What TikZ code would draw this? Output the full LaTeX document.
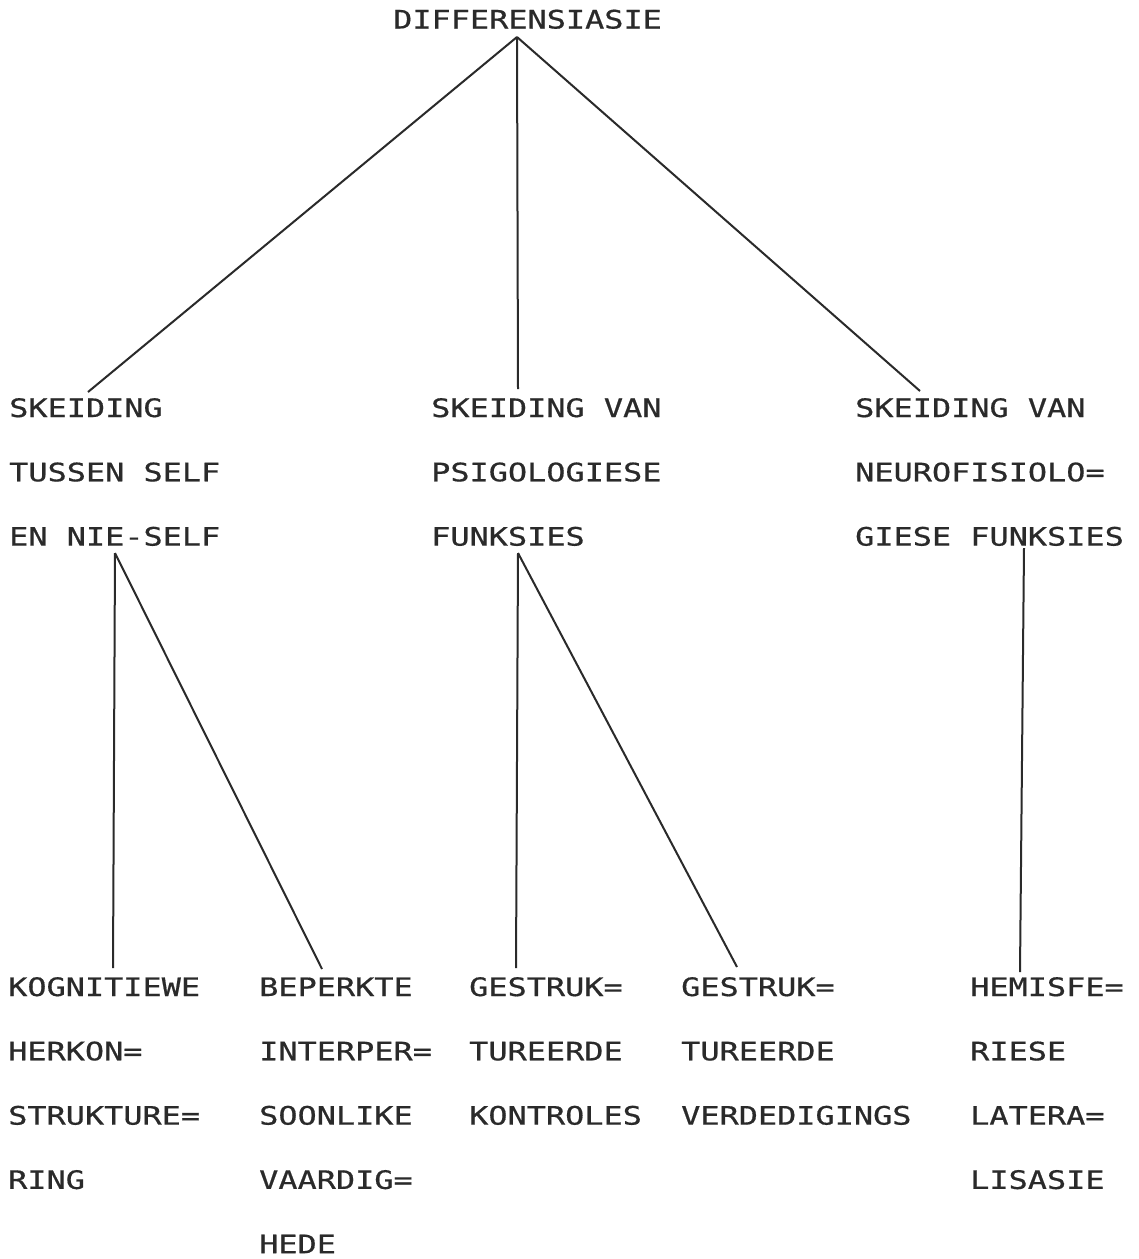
\documentclass[tikz,border=0pt]{standalone}
\usepackage{fontspec}
% wide monospaced plotter-style lettering
\newfontfamily\plotfont[FakeStretch=1.255,FakeBold=0.6]{DejaVu Sans Mono}
\definecolor{ink}{HTML}{2A2A2A}
\begin{document}
\begin{tikzpicture}[x=1pt,y=-1pt,
  lbl/.style={anchor=base west, inner sep=0pt,
    font=\plotfont\fontsize{25.4}{25.4}\selectfont, text=ink},
  link/.style={draw=ink, line width=2pt, line join=round}]
\fill[white] (0,0) rectangle (1139,1259);
\useasboundingbox (0,0) rectangle (1139,1259);

% a text block: one node per line, lines 64.3pt apart
\newcommand\textblock[4]{%
  \foreach \txt [count=\i] in {#4}
    \node[lbl] (#1-\i) at (#2,{#3+64.3*(\i-1)}) {\txt};}

\textblock{root}{393}{28.5}{DIFFERENSIASIE}

\textblock{a}{9}{417}{SKEIDING,TUSSEN SELF,EN NIE-SELF}
\textblock{b}{431}{417}{SKEIDING VAN,PSIGOLOGIESE,FUNKSIES}
\textblock{c}{855}{417}{SKEIDING VAN,NEUROFISIOLO=,GIESE FUNKSIES}

\textblock{d}{8}{996}{KOGNITIEWE,HERKON=,STRUKTURE=,RING}
\textblock{e}{259}{996}{BEPERKTE,INTERPER=,SOONLIKE,VAARDIG=,HEDE}
\textblock{f}{469}{996}{GESTRUK=,TUREERDE,KONTROLES}
\textblock{g}{681}{996}{GESTRUK=,TUREERDE,VERDEDIGINGS}
\textblock{h}{970}{996}{HEMISFE=,RIESE,LATERA=,LISASIE}

% connector ends
\coordinate (root-out) at (517,37);
\coordinate (a-in) at (88,392);
\coordinate (b-in) at (518,389);
\coordinate (c-in) at (920,391);
\coordinate (a-out) at (115,553);
\coordinate (b-out) at (518,553);
\coordinate (c-out) at (1024,548);
\coordinate (d-in) at (113,968);
\coordinate (e-in) at (322,969);
\coordinate (f-in) at (516,968);
\coordinate (g-in) at (737,967);
\coordinate (h-in) at (1020,972);

\draw[link] (root-out) -- (a-in);
\draw[link] (root-out) -- (b-in);
\draw[link] (root-out) -- (c-in);
\draw[link] (a-out) -- (d-in);
\draw[link] (a-out) -- (e-in);
\draw[link] (b-out) -- (f-in);
\draw[link] (b-out) -- (g-in);
\draw[link] (c-out) -- (h-in);
\end{tikzpicture}
\end{document}
